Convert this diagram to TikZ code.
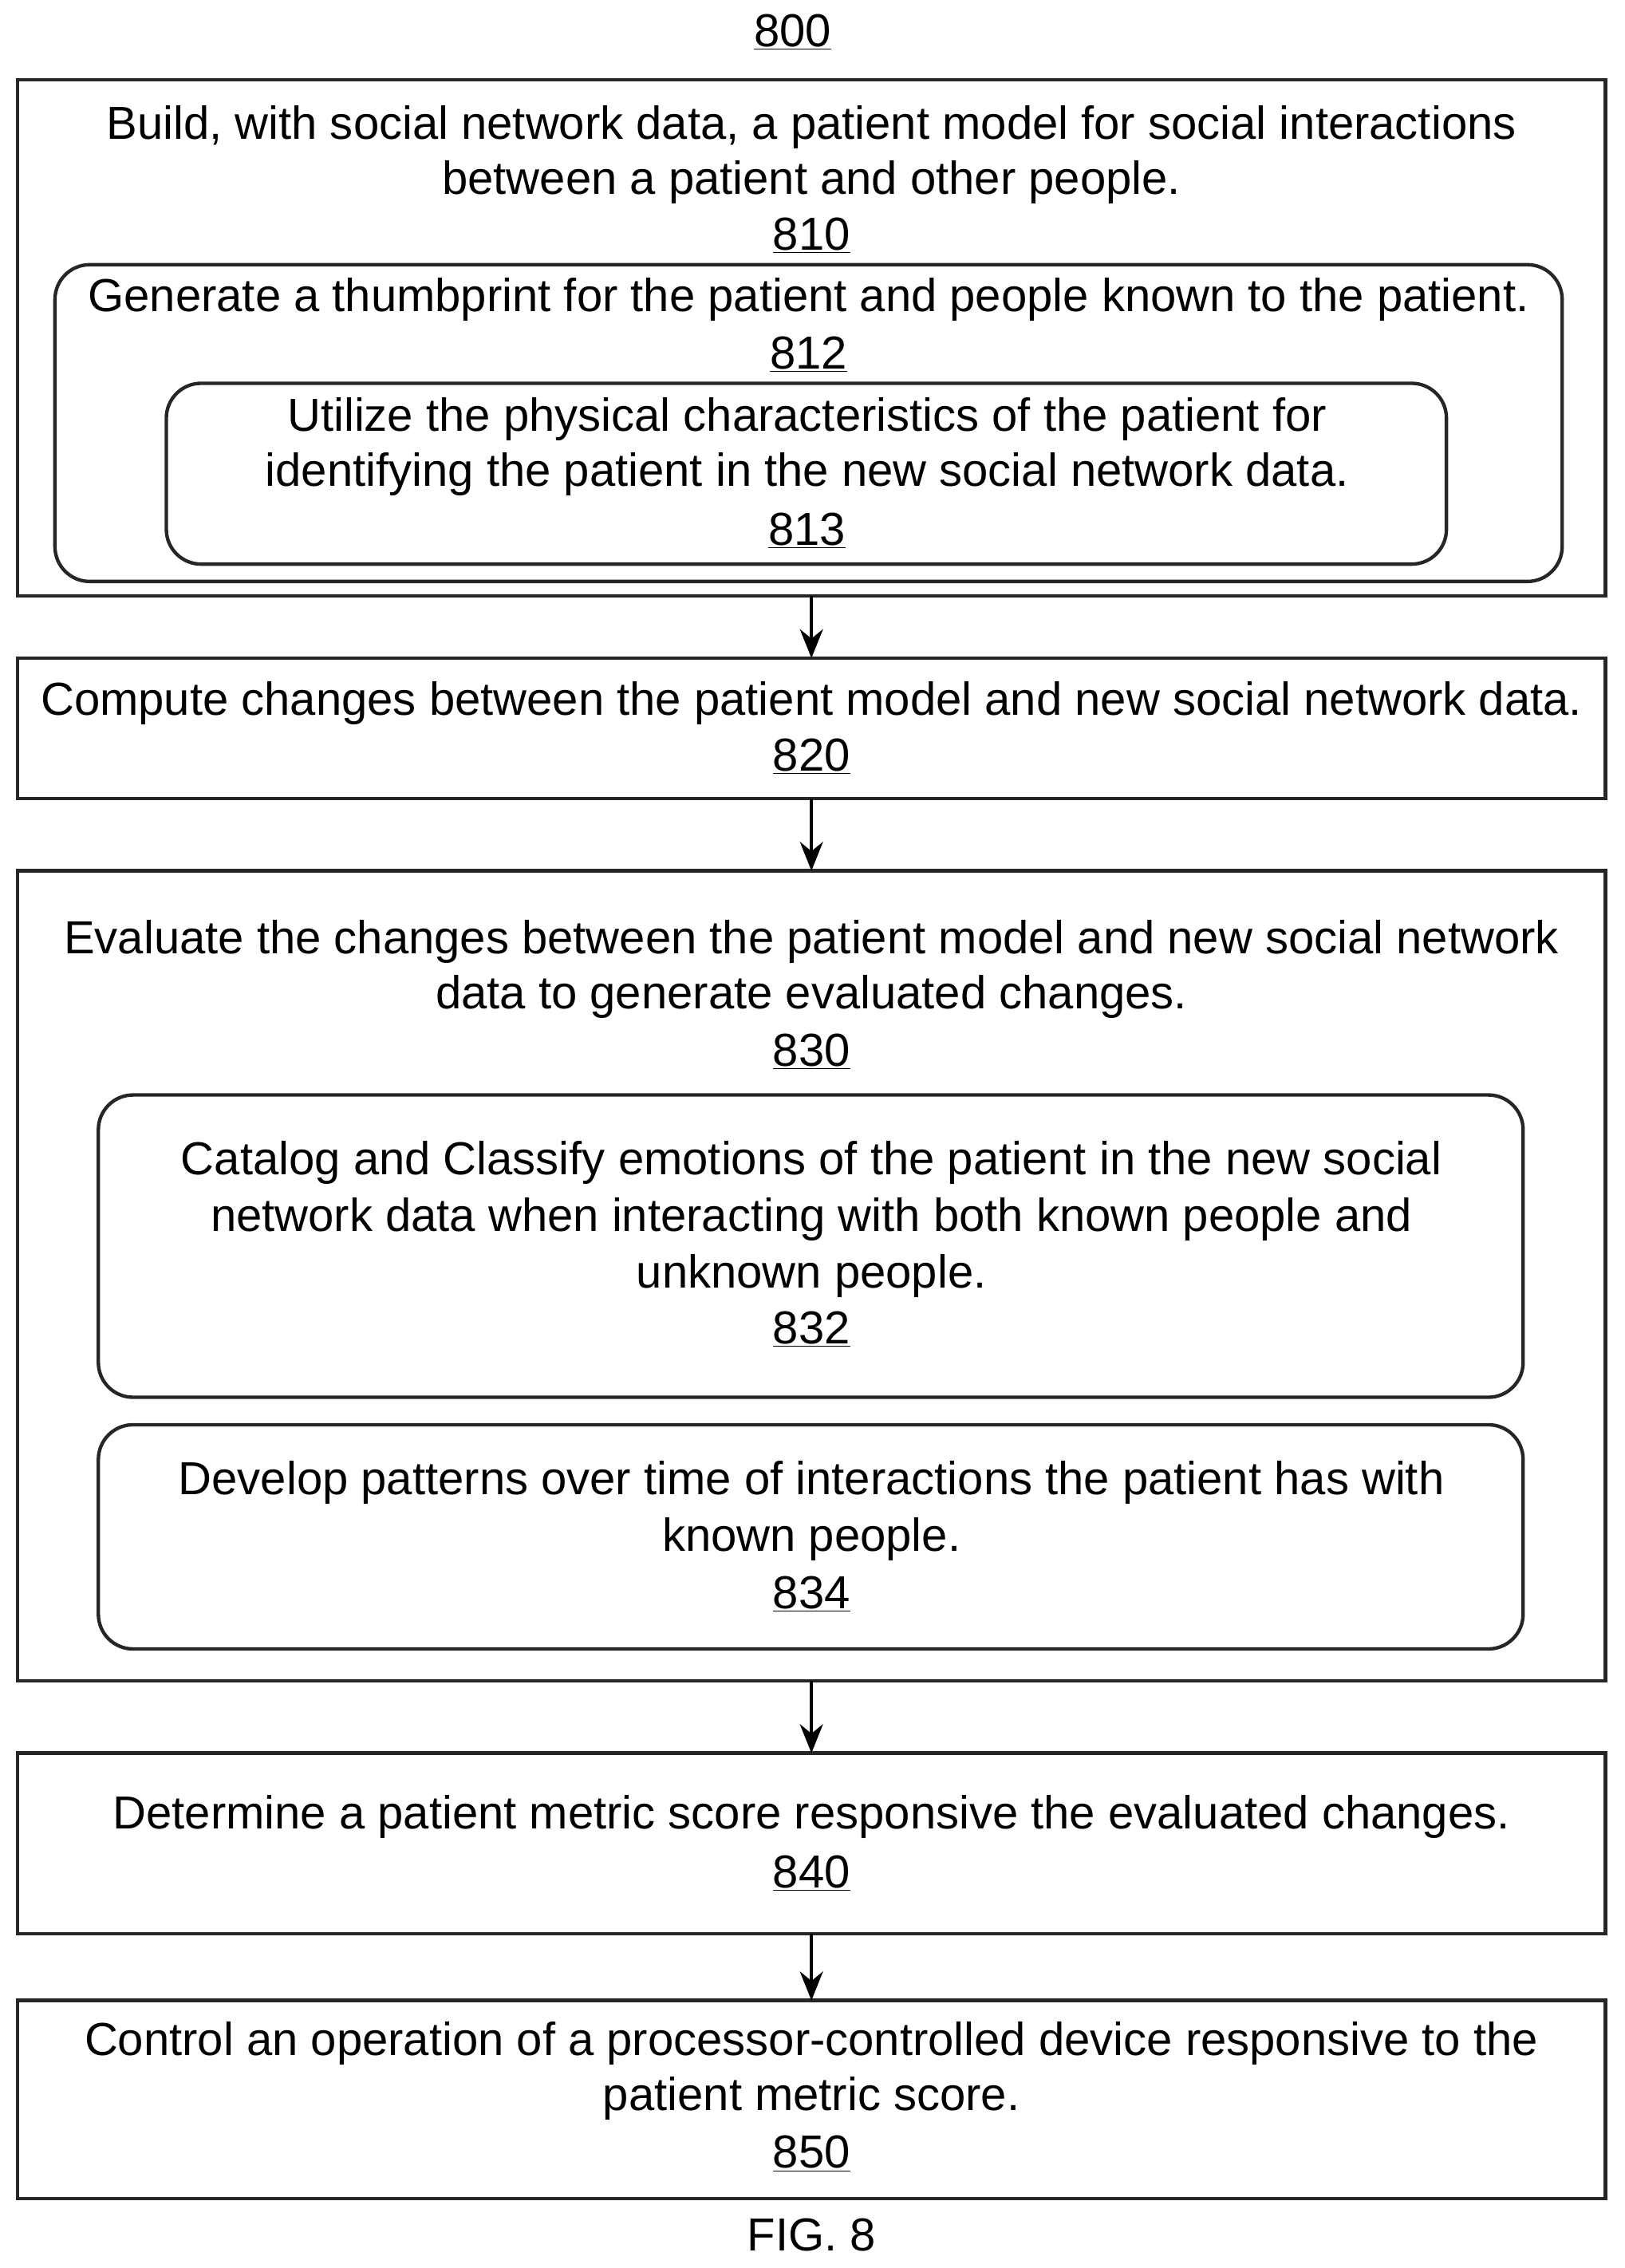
\documentclass[tikz,border=0pt]{standalone}
\usepackage{fontspec}
\setmainfont{Liberation Sans}
\usetikzlibrary{arrows.meta}
\begin{document}
\begin{tikzpicture}[x=1pt,y=-1pt,
  box/.style={draw=black!85,line width=2.4pt,inner sep=0pt},
  rbox/.style={box,rounded corners=24pt},
  t/.style={font=\fontsize{32}{38}\selectfont,inner sep=0pt,anchor=center},
  arr/.style={line width=2pt,-{Stealth[length=20pt,width=16pt]}}]
\useasboundingbox (0,0) rectangle (1123,1568);
\newcommand\bx[6]{\draw[#1] (#2,#3) rectangle (#4,#5); \coordinate (#6n) at ({(#2+#4)/2},#3); \coordinate (#6s) at ({(#2+#4)/2},#5);}
\bx{box}{12}{55}{1110}{412}{b810}
\bx{rbox}{38}{183}{1080}{402}{b812}
\bx{rbox}{115}{265}{1000}{390}{b813}
\bx{box}{12}{455}{1110}{552}{b820}
\bx{box}{12}{602}{1110}{1162}{b830}
\bx{rbox}{68}{757}{1053}{966}{b832}
\bx{rbox}{68}{985}{1053}{1140}{b834}
\bx{box}{12}{1212}{1110}{1337}{b840}
\bx{box}{12}{1383}{1110}{1520}{b850}
\node[t] (n800) at (548,22) {\underline{800}};
\node[t] (l1) at (561,88) {Build, with social network data, a patient model for social interactions};
\node[t] (l2) at (561,126) {between a patient and other people.};
\node[t] (n810) at (561,163) {\underline{810}};
\node[t] (l3) at (559,207) {Generate a thumbprint for the patient and people known to the patient.};
\node[t] (n812) at (559,245) {\underline{812}};
\node[t] (l4) at (558,290) {Utilize the physical characteristics of the patient for};
\node[t] (l5) at (558,328) {identifying the patient in the new social network data.};
\node[t] (n813) at (558,367) {\underline{813}};
\node[t] (l6) at (561,486) {Compute changes between the patient model and new social network data.};
\node[t] (n820) at (561,523) {\underline{820}};
\node[t] (l7) at (561,651) {Evaluate the changes between the patient model and new social network};
\node[t] (l8) at (561,689) {data to generate evaluated changes.};
\node[t] (n830) at (561,727) {\underline{830}};
\node[t] (l9) at (561,804) {Catalog and Classify emotions of the patient in the new social};
\node[t] (l10) at (561,843) {network data when interacting with both known people and};
\node[t] (l11) at (561,882) {unknown people.};
\node[t] (n832) at (561,919) {\underline{832}};
\node[t] (l12) at (561,1025) {Develop patterns over time of interactions the patient has with};
\node[t] (l13) at (561,1064) {known people.};
\node[t] (n834) at (561,1102) {\underline{834}};
\node[t] (l14) at (561,1256) {Determine a patient metric score responsive the evaluated changes.};
\node[t] (n840) at (561,1295) {\underline{840}};
\node[t] (l15) at (561,1413) {Control an operation of a processor-controlled device responsive to the};
\node[t] (l16) at (561,1451) {patient metric score.};
\node[t] (n850) at (561,1489) {\underline{850}};
\node[t] (fig) at (561,1545) {FIG. 8};
\draw[arr] (b810s) -- (b820n);
\draw[arr] (b820s) -- (b830n);
\draw[arr] (b830s) -- (b840n);
\draw[arr] (b840s) -- (b850n);
\end{tikzpicture}
\end{document}
